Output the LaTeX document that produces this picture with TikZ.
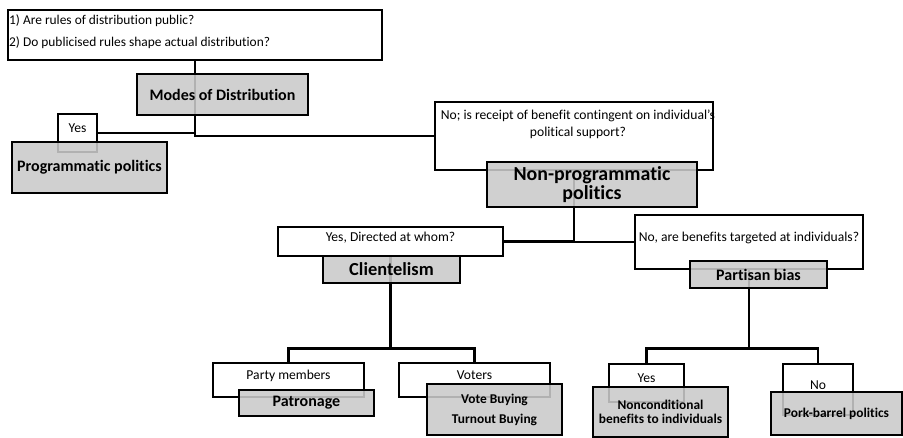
\documentclass[tikz,border=0pt]{standalone}
\usepackage{fontspec}
\setmainfont{Carlito}[Ligatures=NoCommon]
\usetikzlibrary{backgrounds}
\definecolor{boxgray}{RGB}{202,202,202}
\begin{document}
\begin{tikzpicture}[x=1pt, y=-1pt,
    askbox/.style={draw, line width=2.6pt, fill=white, inner sep=0pt},
    lifttext/.style={text height=8pt, text depth=8pt, font=\fontsize{13.6}{15}\selectfont},
    kindbox/.style={draw, line width=2.6pt, fill=boxgray, fill opacity=0.88, text opacity=1, inner sep=0pt, align=center},
    link/.style={line width=2.6pt}]
  \useasboundingbox (0,0) rectangle (903,438);
  % question boxes
  \node[askbox, minimum width=374pt, minimum height=50pt] (rules) at (195,35){};
  \node[anchor=north west, inner sep=0pt, align=left, font=\fontsize{13.4}{22}\selectfont] (rulestxt) at (9,14.5){1) Are rules of distribution public?\\2) Do publicised rules shape actual distribution?};
  \node[askbox, lifttext, minimum width=39pt, minimum height=38pt] (yesprog) at (77.5,133){Yes};
  \node[askbox, minimum width=278pt, minimum height=68pt] (noq) at (574,136){};
  \node[anchor=north, inner sep=0pt, align=center, font=\fontsize{13.6}{17}\selectfont] (noqtxt) at (578,110){No; is receipt of benefit contingent on individual's\\political support?};
  \node[askbox, lifttext, minimum width=225pt, minimum height=29pt] (yesdir) at (390.5,241.5){Yes, Directed at whom?};
  \node[askbox, lifttext, minimum width=228pt, minimum height=54pt] (noare) at (749,242){No, are benefits targeted at individuals?};
  \node[askbox, lifttext, minimum width=151pt, minimum height=34pt] (party) at (288.5,380){Party members};
  \node[askbox, lifttext, minimum width=151pt, minimum height=34pt] (voters) at (474.5,380){Voters};
  \node[askbox, lifttext, minimum width=75pt, minimum height=38pt] (yesind) at (646.5,383){Yes};
  \node[askbox, lifttext, minimum width=70pt, minimum height=51pt] (nopork) at (818,389.5){No};
  % category boxes
  \node[kindbox, minimum width=171pt, minimum height=41pt, font=\fontsize{16}{19}\selectfont\bfseries] (modes) at (222.5,94.5){Modes of Distribution};
  \node[kindbox, minimum width=155pt, minimum height=51pt, font=\fontsize{16}{19}\selectfont\bfseries] (prog) at (89.5,167.5){Programmatic politics};
  \node[kindbox, minimum width=210pt, minimum height=45pt, font=\fontsize{19.9}{19.5}\selectfont\bfseries] (nonprog) at (592,184.5){Non-programmatic\\politics};
  \node[kindbox, minimum width=137pt, minimum height=27pt, font=\fontsize{18.4}{20}\selectfont\bfseries] (client) at (391.5,269.5){Clientelism};
  \node[kindbox, minimum width=137pt, minimum height=27pt, font=\fontsize{16}{19}\selectfont\bfseries] (partisan) at (758.5,274.5){Partisan bias};
  \node[kindbox, minimum width=135pt, minimum height=26pt, font=\fontsize{16}{19}\selectfont\bfseries] (patron) at (306.5,403){Patronage};
  \node[kindbox, minimum width=135pt, minimum height=51pt, font=\fontsize{13.4}{20}\selectfont\bfseries] (votebuy) at (494.5,409.5){Vote Buying\\Turnout Buying};
  \node[kindbox, minimum width=135pt, minimum height=50pt, font=\fontsize{13.4}{14.5}\selectfont\bfseries] (noncond) at (660.5,412){Nonconditional\\benefits to individuals};
  \node[kindbox, minimum width=131pt, minimum height=43pt, font=\fontsize{13.4}{16}\selectfont\bfseries] (pork) at (836.5,413.5){Pork-barrel politics};
  % connectors
  \begin{scope}[on background layer]
    \draw[link] (yesprog.east) -| (rules.south);
    \draw[link] (rules.south) |- (noq.west);
    \draw[link] (noq.south) |- (yesdir.east);
    \draw[link] (noq.south) |- (noare.west);
    \path (yesdir.south) ++(0,91) coordinate (clientfork);
    \draw[link] (yesdir.south) -- (clientfork);
    \draw[link] (party.north) |- (clientfork) -| (voters.north);
    \path (noare.south) ++(0,78) coordinate (biasfork);
    \draw[link] (noare.south) -- (biasfork);
    \draw[link] (yesind.north) |- (biasfork) -| (nopork.north);
  \end{scope}
\end{tikzpicture}
\end{document}
